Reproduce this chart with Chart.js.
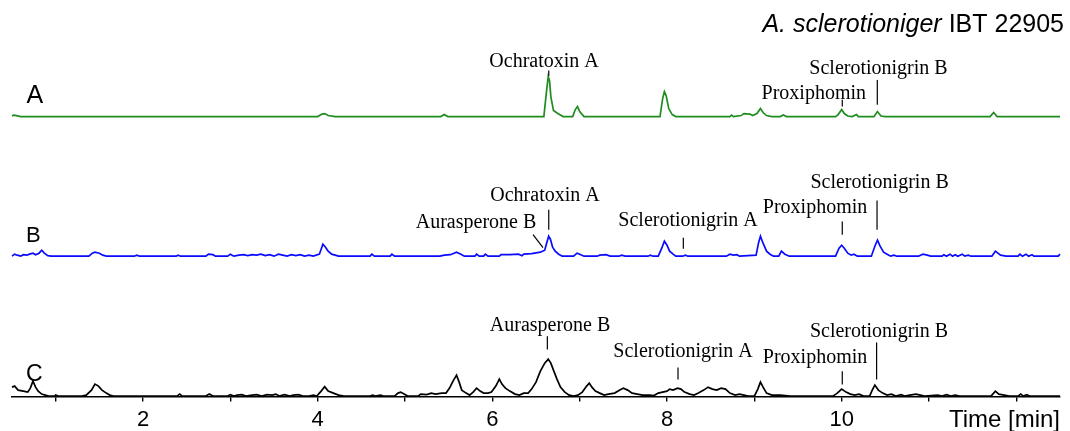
<!DOCTYPE html>
<html>
<head>
<meta charset="utf-8">
<script src="https://cdn.jsdelivr.net/npm/chart.js@4.4.1/dist/chart.umd.min.js"></script>
<style>
  body { margin: 0; background: #fff; }
  #wrap { width: 1070px; height: 431px; position: relative; }
</style>
</head>
<body>
<div id="wrap"><canvas id="chrom"></canvas></div>
<script>
// Chromatogram traces, [time (min), intensity]
const traceA = [
  [0.5,0.5],[0.52,1.5],[0.55,1],[0.6,0],
  [4.0,0],[4.05,2.5],[4.08,3],[4.12,1],[4.2,0],
  [5.41,0],[5.45,2],[5.49,0],
  [6.59,0],[6.62,25],[6.64,40],[6.655,36],[6.67,20],[6.70,6],[6.75,3],[6.81,0],
  [6.92,0],[6.95,7],[6.975,10],[7.0,5],[7.05,0],
  [7.92,0],[7.95,18],[7.97,25],[7.99,21],[8.02,8],[8.06,2],[8.1,0],
  [8.72,0],[8.74,1.5],[8.76,0],[8.85,1],[8.88,3],[8.95,2.5],[8.98,1],[9.03,3],[9.07,8],[9.1,4],[9.14,1],[9.2,0],
  [9.3,0],[9.33,1.5],[9.37,0],
  [9.93,0],[9.96,2],[10.0,7],[10.03,3],[10.07,0.5],[10.12,0],[10.17,2],[10.19,0],
  [10.37,0],[10.41,5],[10.45,0.5],[10.5,0],
  [11.7,0],[11.74,4],[11.78,0],[12.5,0]
];
const traceB = [
  [0.5,0],[0.53,2],[0.56,1],[0.6,0],[0.63,1.5],[0.67,1],[0.7,2],[0.74,3],[0.77,1.5],[0.81,3],[0.84,6],[0.87,3],[0.91,0.5],[0.95,0],
  [1.38,0],[1.42,3],[1.45,4],[1.5,3],[1.54,1],[1.58,0],
  [1.9,0],[1.93,1],[1.96,0],
  [2.38,0],[2.4,1],[2.43,0],
  [2.72,0],[2.75,2],[2.8,1.5],[2.83,0],
  [2.97,0],[3.0,2],[3.04,0],[3.1,1],[3.15,1.5],[3.2,0.5],[3.25,1.5],[3.3,1],[3.35,2],[3.4,0.5],[3.45,1.5],[3.5,0],[3.55,2],[3.6,1],[3.65,0],[3.7,1.5],[3.75,0.5],[3.8,1.5],[3.85,0],[3.9,1],[3.95,0],
  [4.02,2],[4.06,12],[4.09,9],[4.12,5],[4.16,2],[4.2,1],[4.24,0],
  [4.6,0],[4.62,2],[4.65,0],
  [4.83,0],[4.85,2],[4.88,0],
  [5.4,0],[5.45,1],[5.52,1.5],[5.59,4],[5.64,2],[5.68,0],
  [5.8,0],[5.82,2],[5.85,0],[5.9,0],[5.92,2],[5.95,0],
  [6.08,0],[6.1,1.5],[6.2,1.5],[6.3,2],[6.34,0.5],[6.36,2],[6.45,2.5],[6.55,4],[6.6,6],[6.625,14],[6.645,20],[6.665,17],[6.69,9],[6.72,5],[6.76,2],[6.8,0],
  [6.93,0],[6.97,3],[7.0,2],[7.05,0],
  [7.2,0],[7.23,1],[7.3,1.5],[7.35,0],[7.45,0],[7.48,1],[7.52,0],
  [7.78,0],[7.81,1],[7.84,0],
  [7.9,0],[7.94,8],[7.97,15],[8.0,11],[8.03,5],[8.07,2],[8.1,0],
  [8.18,0],[8.21,1],[8.24,0],
  [8.68,0],[8.72,2],[8.76,1],[8.8,1.5],[8.83,0],
  [9.02,1],[9.05,14],[9.07,20],[9.1,13],[9.14,5],[9.18,2],[9.22,0],
  [9.28,0],[9.31,5],[9.35,2],[9.4,0],
  [9.93,0],[9.97,8],[10.0,11],[10.03,8],[10.07,3],[10.11,1],[10.14,2],[10.18,0],
  [10.34,0],[10.38,10],[10.41,16],[10.44,10],[10.48,4],[10.52,2],[10.56,0],
  [10.6,1],[10.63,0],
  [10.88,0],[10.93,2],[10.98,1],[11.02,0],
  [11.15,0],[11.17,1.5],[11.2,0],[11.24,2],[11.27,0],[11.3,1.5],[11.33,0],[11.38,2],[11.41,0],[11.45,1],[11.48,0],
  [11.72,0],[11.76,5],[11.82,1],[11.88,0],
  [12.02,0],[12.04,2],[12.07,0],[12.11,2],[12.14,0],[12.18,1.5],[12.2,0],
  [12.48,0],[12.5,2]
];
const traceC = [
  [0.5,9],[0.53,10],[0.57,6],[0.63,5],[0.68,4],[0.71,8],[0.74,15],[0.77,9],[0.8,5],[0.84,2],[0.88,1],[0.92,0],
  [0.99,0],[1.0,1],[1.03,0],
  [1.3,0],[1.35,1],[1.41,6],[1.45,12],[1.49,10],[1.53,6],[1.58,3],[1.62,1],[1.66,0],
  [2.39,0],[2.42,2],[2.45,0],
  [2.72,0],[2.76,2],[2.8,0],
  [2.97,0],[3.0,1.5],[3.04,0],[3.08,1],[3.13,1.5],[3.18,0],[3.25,1],[3.3,1.5],[3.36,0],[3.42,1.5],[3.48,1],[3.52,2],[3.56,0],[3.62,1.5],[3.68,0],[3.72,1],[3.78,1.5],[3.83,0],[3.9,0],[3.95,1],[3.99,0],
  [4.04,5],[4.08,9.5],[4.12,5],[4.18,3],[4.24,1],[4.3,0],
  [4.6,0],[4.63,1],[4.66,0],[4.72,1],[4.75,0],
  [4.88,0],[4.92,3],[4.95,4],[4.99,2],[5.03,0],
  [5.15,0],[5.18,2],[5.25,1.5],[5.3,3],[5.35,2],[5.42,3],[5.47,3],[5.51,8],[5.55,15],[5.59,21],[5.62,14],[5.65,6],[5.7,3],[5.74,1],[5.78,4],[5.82,8],[5.86,5],[5.9,3],[5.95,3],[5.99,4],[6.04,10],[6.08,17],[6.11,12],[6.15,8],[6.2,5],[6.26,2],[6.31,1],[6.36,3],[6.41,3],[6.45,7],[6.5,14],[6.55,25],[6.6,33],[6.64,37],[6.67,33],[6.7,26],[6.74,17],[6.78,9],[6.83,4],[6.88,1],[6.93,0],
  [6.98,1],[7.03,4],[7.08,10],[7.11,13],[7.14,9],[7.18,5],[7.23,3],[7.28,1],[7.33,2],[7.4,3],[7.46,6],[7.5,8],[7.55,6],[7.6,3],[7.66,2],[7.72,1],[7.8,1],[7.85,0.5],[7.9,3],[7.95,4],[8.0,5],[8.03,7],[8.07,6],[8.12,8],[8.16,7],[8.2,4],[8.26,2],[8.31,1],[8.36,3],[8.42,6],[8.47,9],[8.52,7],[8.57,6],[8.62,8],[8.67,7],[8.72,3],[8.78,1],[8.83,2],[8.88,1],[8.93,0],
  [9.0,0],[9.04,7],[9.07,14],[9.1,9],[9.14,3],[9.2,1],[9.3,1],[9.41,0],
  [9.9,0],[9.95,3],[10.0,7],[10.05,4],[10.1,2],[10.15,1],[10.2,2],[10.25,0],
  [10.32,0],[10.35,6],[10.38,11],[10.42,6],[10.47,3],[10.52,1],[10.57,2],[10.62,0],[10.68,1.5],[10.72,0],[10.78,1],[10.85,2],[10.9,1],[10.95,0],
  [11.1,1],[11.15,0],[11.2,1.5],[11.25,0],[11.3,1],[11.35,0],
  [11.71,0],[11.76,5],[11.8,2],[11.86,1],[11.92,0],
  [12.02,0],[12.05,2],[12.08,0],[12.12,1.5],[12.15,0],[12.5,0]
];

const tickValues = [2, 4, 6, 8, 10];                       // labelled ticks
const tickMarks = [1, 2, 3, 4, 5, 6, 7, 8, 9, 10, 11, 12];   // all tick marks
const traceNames = ['A', 'B', 'C'];

// peak annotations: compound names and retention times of their markers
const compoundsA = ['Ochratoxin A', 'Proxiphomin', 'Sclerotionigrin B'];
const markTimesA = [6.646, 10.007, 10.408];
const compoundsB = ['Aurasperone B', 'Ochratoxin A', 'Sclerotionigrin A', 'Proxiphomin', 'Sclerotionigrin B'];
const markTimesB = [6.58, 6.646, 8.187, 10.007, 10.405];
const compoundsC = ['Aurasperone B', 'Sclerotionigrin A', 'Proxiphomin', 'Sclerotionigrin B'];
const markTimesC = [6.63, 8.126, 10.007, 10.40];

// --- layout / styling ---
const offsets = [280.3, 140.5, 0.4];   // vertical shift of each trace (px units)
const colors = ['#1e8c1e', '#0a0aff', '#000000'];

// text x (as time), text baseline height, marker from/to heights (above trace baseline)
const placeA = [
  { tt: 6.592, ty: 50,   from: 40.5, to: 46 },
  { tt: 9.681, ty: 17.4, from: 10,   to: 16.7 },
  { tt: 10.422, ty: 42.4, from: 11.7, to: 36.7 }
];
const placeB = [
  { tt: 5.813, ty: 28.2, from: 8.5, to: 21.5, toT: 6.466 },
  { tt: 6.603, ty: 54.8, from: 26.5, to: 46.5 },
  { tt: 8.241, ty: 30.5, from: 7.5, to: 18.5 },
  { tt: 9.695, ty: 43.2, from: 21.5, to: 34.8 },
  { tt: 10.434, ty: 68.2, from: 26.5, to: 55.8 }
];
const placeC = [
  { tt: 6.661, ty: 65,   from: 46.7, to: 60 },
  { tt: 8.184, ty: 39.4, from: 16.7, to: 28.7 },
  { tt: 9.695, ty: 32.7, from: 11.7, to: 25 },
  { tt: 10.428, ty: 59,  from: 16.7, to: 53.7 }
];
const traceLabelPos = [
  { x: 26.5, y: 102.7, size: 25 },
  { x: 26, y: 242.3, size: 22 },
  { x: 26, y: 381, size: 23 }
];

function toPoints(trace, offset) {
  return trace.map(p => ({ x: p[0], y: p[1] + offset }));
}

const annotations = [
  { names: compoundsA, times: markTimesA, place: placeA, offset: offsets[0] },
  { names: compoundsB, times: markTimesB, place: placeB, offset: offsets[1] },
  { names: compoundsC, times: markTimesC, place: placeC, offset: offsets[2] }
];

const labelPlugin = {
  id: 'peakLabels',
  afterDatasetsDraw(chart) {
    const { ctx, scales: { x, y } } = chart;
    ctx.save();
    ctx.fillStyle = '#000';
    ctx.strokeStyle = '#000';
    ctx.lineWidth = 1.2;

    // compound labels and their markers
    ctx.font = '20px "Liberation Serif", "Times New Roman", serif';
    ctx.textAlign = 'center';
    ctx.textBaseline = 'alphabetic';
    annotations.forEach(group => {
      group.names.forEach((name, i) => {
        const p = group.place[i];
        const t = group.times[i];
        ctx.fillText(name, x.getPixelForValue(p.tt), y.getPixelForValue(group.offset + p.ty));
        ctx.beginPath();
        ctx.moveTo(x.getPixelForValue(t), y.getPixelForValue(group.offset + p.from));
        ctx.lineTo(x.getPixelForValue(p.toT !== undefined ? p.toT : t), y.getPixelForValue(group.offset + p.to));
        ctx.stroke();
      });
    });

    // trace letters
    ctx.textAlign = 'left';
    traceNames.forEach((n, i) => {
      const pos = traceLabelPos[i];
      ctx.font = pos.size + 'px "Liberation Sans", Arial, sans-serif';
      ctx.fillText(n, pos.x, pos.y);
    });

    // axis title
    ctx.textAlign = 'right';
    ctx.font = '24px "Liberation Sans", Arial, sans-serif';
    ctx.fillText('Time [min]', 1060, 426.5);

    // title, italic species name + strain
    ctx.font = '25px "Liberation Sans", Arial, sans-serif';
    const strain = 'IBT 22905';
    ctx.fillText(strain, 1064, 32);
    const w = ctx.measureText(strain).width;
    ctx.font = 'italic 25px "Liberation Sans", Arial, sans-serif';
    ctx.fillText('A. sclerotioniger ', 1064 - w, 32);
    ctx.restore();
  }
};

new Chart(document.getElementById('chrom'), {
  type: 'line',
  data: {
    datasets: [traceA, traceB, traceC].map((tr, i) => ({
      label: traceNames[i],
      data: toPoints(tr, offsets[i]),
      borderColor: colors[i],
      borderWidth: 1.7,
      pointRadius: 0,
      tension: 0,
      fill: false,
      clip: false
    }))
  },
  options: {
    responsive: true,
    maintainAspectRatio: false,
    animation: false,
    layout: { padding: { left: 12, right: 10, top: 0, bottom: -8 } },
    plugins: {
      legend: { display: false },
      tooltip: { enabled: false }
    },
    scales: {
      x: {
        type: 'linear',
        min: 0.5,
        max: 12.5,
        afterBuildTicks: scale => {
          scale.ticks = tickMarks.map(v => ({ value: v }));
        },
        grid: { drawOnChartArea: false, color: '#000', tickLength: 5, lineWidth: 1.4 },
        border: { color: '#000', width: 1.6 },
        ticks: {
          autoSkip: false,
          maxRotation: 0,
          padding: 5,
          color: '#000',
          font: { family: '"Liberation Sans", Arial, sans-serif', size: 22, lineHeight: 1.25 },
          callback: v => tickValues.includes(v) ? String(v) : ''
        }
      },
      y: { display: false, min: 0, max: 397 }
    }
  },
  plugins: [labelPlugin]
});
</script>
</body>
</html>
